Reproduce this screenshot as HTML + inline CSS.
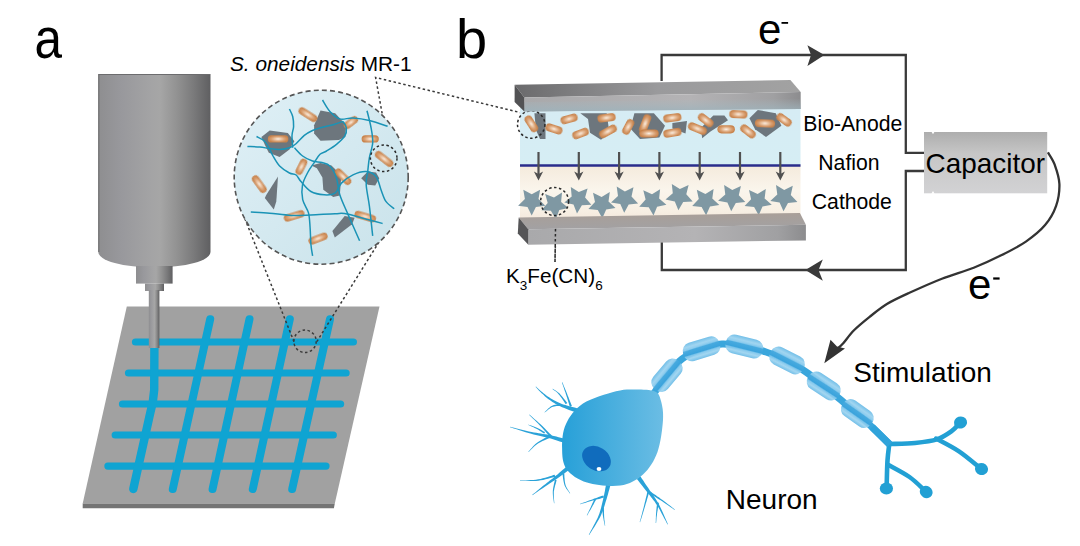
<!DOCTYPE html><html><head><meta charset="utf-8"><style>html,body{margin:0;padding:0;background:#fff;width:1080px;height:546px;overflow:hidden}svg{display:block}text{font-family:"Liberation Sans",sans-serif}</style></head><body>
<svg width="1080" height="546" viewBox="0 0 1080 546">
<defs>
<linearGradient id="cyl" x1="0" x2="1" y1="0" y2="0">
<stop offset="0" stop-color="#8e8e90"/><stop offset="0.2" stop-color="#98989c"/><stop offset="0.48" stop-color="#a4a4a5"/><stop offset="0.55" stop-color="#a6a6a6"/><stop offset="0.7" stop-color="#929292"/><stop offset="0.85" stop-color="#7a7a7b"/><stop offset="1" stop-color="#5f5f61"/></linearGradient>
<radialGradient id="rod" cx="0.5" cy="0.5" r="0.5"><stop offset="0" stop-color="#fbf0e6"/><stop offset="0.3" stop-color="#ecc9aa"/><stop offset="0.65" stop-color="#d9a072"/><stop offset="1" stop-color="#c8834c"/></radialGradient>
<linearGradient id="circ" x1="0" x2="1" y1="0" y2="1"><stop offset="0" stop-color="#dff0f6"/><stop offset="1" stop-color="#c9e2ea"/></linearGradient>
<linearGradient id="etop" x1="0" x2="1" y1="0" y2="0"><stop offset="0" stop-color="#6a6a6c"/><stop offset="0.5" stop-color="#9a9a9c"/><stop offset="1" stop-color="#a2a2a2"/></linearGradient>
<linearGradient id="efront" x1="0" x2="1" y1="0" y2="0"><stop offset="0" stop-color="#a9a9ab"/><stop offset="0.6" stop-color="#b4b3b5"/><stop offset="0.9" stop-color="#a0a0a2"/><stop offset="1" stop-color="#8c8c8e"/></linearGradient>
<linearGradient id="anode" x1="0" x2="0" y1="0" y2="1"><stop offset="0" stop-color="#d6ecf4"/><stop offset="1" stop-color="#d6eef4"/></linearGradient>
<linearGradient id="cath" x1="0" x2="0" y1="0" y2="1"><stop offset="0" stop-color="#f4eadc"/><stop offset="0.45" stop-color="#faf5ec"/><stop offset="0.8" stop-color="#f8f0e4"/><stop offset="1" stop-color="#f3e8dc"/></linearGradient>
<linearGradient id="btop" x1="0" x2="0" y1="0" y2="1"><stop offset="0" stop-color="#a99f98"/><stop offset="1" stop-color="#a2a1a3"/></linearGradient>
<linearGradient id="cap" x1="0" x2="0" y1="0" y2="1"><stop offset="0" stop-color="#adadad"/><stop offset="0.35" stop-color="#c6c6c6"/><stop offset="1" stop-color="#d2d2d4"/></linearGradient>
<linearGradient id="soma" x1="0" x2="1" y1="0" y2="0"><stop offset="0" stop-color="#27a0d8"/><stop offset="1" stop-color="#6bbde4"/></linearGradient>
<linearGradient id="myel" x1="0" x2="0" y1="0" y2="1"><stop offset="0" stop-color="#6cbce7"/><stop offset="0.2" stop-color="#9cd3f0"/><stop offset="0.34" stop-color="#86c9ed"/><stop offset="0.4" stop-color="#48aadf"/><stop offset="0.62" stop-color="#3ba3dc"/><stop offset="0.68" stop-color="#7fc6ec"/><stop offset="0.82" stop-color="#9ed4f0"/><stop offset="1" stop-color="#6cbce7"/></linearGradient>
<filter id="soft" x="-30%" y="-30%" width="160%" height="160%"><feGaussianBlur stdDeviation="0.7"/></filter>
<linearGradient id="eblue" x1="0" x2="0" y1="0" y2="1"><stop offset="0" stop-color="#a6b8c0" stop-opacity="0"/><stop offset="1" stop-color="#9db3bc" stop-opacity="0.85"/></linearGradient>
</defs>

<text x="34.6" y="58.3" font-size="57" fill="#000" textLength="27.5" lengthAdjust="spacingAndGlyphs">a</text>
<text x="456" y="57.5" font-size="56" fill="#000">b</text>
<path d="M98.3,74 H210.5 V252 A56.1,15.5 0 0 1 98.3,252 Z" fill="url(#cyl)"/>
<path d="M98.8,252 V74.5 H210" stroke="#6c6c6e" stroke-width="1.1" fill="none"/>
<rect x="136" y="266" width="36.6" height="17.6" fill="url(#cyl)"/>
<rect x="145" y="283.6" width="19" height="7.4" fill="url(#cyl)"/>
<polygon points="126.8,306.6 379.5,306.6 334.8,503.4 82.7,503.4" fill="#a1a1a1"/>
<polygon points="82.7,503.4 334.8,503.4 333.9,508.3 82.7,508.3" fill="#747474"/>
<line x1="135.5" y1="342" x2="353.4" y2="342" stroke="#0fa4d2" stroke-width="7.2" stroke-linecap="round"/>
<line x1="128.5" y1="373" x2="346.1" y2="373" stroke="#0fa4d2" stroke-width="7.2" stroke-linecap="round"/>
<line x1="122.5" y1="404" x2="340.6" y2="404" stroke="#0fa4d2" stroke-width="7.2" stroke-linecap="round"/>
<line x1="115.2" y1="435" x2="333.3" y2="435" stroke="#0fa4d2" stroke-width="7.2" stroke-linecap="round"/>
<line x1="107.9" y1="466.1" x2="326" y2="466.1" stroke="#0fa4d2" stroke-width="7.2" stroke-linecap="round"/>
<line x1="210.2" y1="319.2" x2="172.8" y2="489" stroke="#0fa4d2" stroke-width="8" stroke-linecap="round"/>
<line x1="249.5" y1="319.2" x2="212.6" y2="489" stroke="#0fa4d2" stroke-width="8" stroke-linecap="round"/>
<line x1="289.8" y1="319.2" x2="252.8" y2="489" stroke="#0fa4d2" stroke-width="8" stroke-linecap="round"/>
<line x1="330" y1="319.2" x2="292.2" y2="489" stroke="#0fa4d2" stroke-width="8" stroke-linecap="round"/>
<path d="M154.4,346 L154.2,390 Q153.5,402 150,414 L133.3,489" stroke="#0fa4d2" stroke-width="8.4" fill="none" stroke-linecap="round" stroke-linejoin="round"/>
<rect x="148.8" y="290" width="10.6" height="58" fill="url(#cyl)"/>
<g stroke="#3a3a3a" stroke-width="1.5" stroke-dasharray="2.5,2.5" fill="none">
<path d="M243,214 L294.5,343"/>
<path d="M379,242 L316,343"/>
<circle cx="305" cy="341.3" r="11.2"/>
<path d="M387.5,143 L375.6,77.5 L522.1,113"/>
<path d="M556,216 L555,262"/>
</g>
<circle cx="321.2" cy="177.2" r="87" fill="url(#circ)"/>
<polygon points="261.4,137.1 269.7,130.5 287.8,133.0 294.4,141.2 289.4,149.4 279.6,156.9 268.8,152.7 264.7,144.5" fill="#6d767d"/>
<polygon points="314.1,125.2 320.5,110.6 335.2,113.2 346.2,125.2 345.3,137.1 338.9,139.9 320.5,140.8 314.1,133.4" fill="#6d767d"/>
<polygon points="266.4,194.8 278.0,176.6 276.3,201.4 273.8,209.6 264.8,198.0" fill="#6d767d"/>
<polygon points="311.4,165.5 320.5,163.1 331.5,165.5 336.0,170.0 341.4,174.9 339.8,195.5 333.2,197.0 323.3,189.7 322.4,177.4 316.9,168.2" fill="#6d767d"/>
<polygon points="361.2,178.2 367.8,171.6 376.0,172.4 379.3,178.2 375.2,185.6 367.8,184.8" fill="#6d767d"/>
<polygon points="332.4,230.9 344.7,216.1 354.6,217.7 352.1,224.3 334.8,237.5" fill="#6d767d"/>
<g filter="url(#soft)" transform="translate(308.0,114.6) rotate(32.4)"><rect x="-10.5" y="-3.6" width="20.9" height="7.3" rx="3.6" fill="url(#rod)"/></g>
<g filter="url(#soft)" transform="translate(278.1,138.9) rotate(0.0)"><rect x="-10.3" y="-3.6" width="20.6" height="7.3" rx="3.6" fill="url(#rod)"/></g>
<g filter="url(#soft)" transform="translate(350.8,122.4) rotate(-37.4)"><rect x="-8.0" y="-3.6" width="16.0" height="7.3" rx="3.6" fill="url(#rod)"/></g>
<g filter="url(#soft)" transform="translate(370.2,138.9) rotate(0.0)"><rect x="-8.6" y="-3.6" width="17.2" height="7.3" rx="3.6" fill="url(#rod)"/></g>
<g filter="url(#soft)" transform="translate(384.2,158.9) rotate(38.0)"><rect x="-10.7" y="-3.6" width="21.3" height="7.3" rx="3.6" fill="url(#rod)"/></g>
<g filter="url(#soft)" transform="translate(301.5,166.8) rotate(116.7)"><rect x="-8.5" y="-3.6" width="17.1" height="7.3" rx="3.6" fill="url(#rod)"/></g>
<g filter="url(#soft)" transform="translate(259.4,184.1) rotate(54.1)"><rect x="-10.0" y="-3.6" width="19.9" height="7.3" rx="3.6" fill="url(#rod)"/></g>
<g filter="url(#soft)" transform="translate(343.1,176.6) rotate(44.8)"><rect x="-10.0" y="-3.6" width="20.1" height="7.3" rx="3.6" fill="url(#rod)"/></g>
<g filter="url(#soft)" transform="translate(294.1,215.8) rotate(-17.1)"><rect x="-10.6" y="-3.6" width="21.3" height="7.3" rx="3.6" fill="url(#rod)"/></g>
<g filter="url(#soft)" transform="translate(365.3,216.5) rotate(16.3)"><rect x="-11.1" y="-3.6" width="22.1" height="7.3" rx="3.6" fill="url(#rod)"/></g>
<g filter="url(#soft)" transform="translate(318.0,238.5) rotate(-20.9)"><rect x="-10.0" y="-3.6" width="20.0" height="7.3" rx="3.6" fill="url(#rod)"/></g>
<path d="M247.4,146.5 C249.5,146.6 256.1,146.7 259.8,147.0 C263.5,147.3 266.4,148.2 269.7,148.6 C273.0,149.0 276.3,149.5 279.6,149.4 C282.9,149.3 286.7,148.8 289.4,147.8 C292.1,146.9 293.5,145.8 296.0,143.7 C298.5,141.6 301.6,137.6 304.3,135.4 C307.1,133.2 309.5,131.9 312.5,130.5 C315.5,129.1 318.9,128.2 322.4,127.2 C325.8,126.2 329.8,125.7 333.2,124.7 C336.6,123.7 341.4,122.0 343.0,121.4" stroke="#1a93b6" stroke-width="1.5" fill="none"/>
<path d="M322.5,100.0 C323.7,101.9 327.0,108.3 329.9,111.5 C332.8,114.7 335.9,117.8 339.8,118.9 C343.7,120.0 348.1,117.7 353.0,118.0 C357.9,118.3 363.6,119.1 369.4,120.5 C375.2,121.9 384.6,125.3 387.6,126.3" stroke="#1a93b6" stroke-width="1.5" fill="none"/>
<path d="M289.4,109.0 C289.9,110.2 292.0,113.6 292.7,116.5 C293.4,119.4 293.7,123.2 293.6,126.4 C293.5,129.6 292.1,131.8 292.0,135.4 C291.9,139.0 292.6,145.7 292.7,147.8" stroke="#1a93b6" stroke-width="1.5" fill="none"/>
<path d="M256.5,136.5 C257.9,137.3 262.5,139.0 264.7,141.2 C266.9,143.3 268.3,146.9 269.7,149.4 C271.1,151.9 271.4,153.2 273.0,156.0 C274.6,158.8 276.9,163.2 279.6,166.0 C282.3,168.8 286.6,171.5 289.4,173.0 C292.1,174.5 294.2,173.6 296.1,175.0 C298.0,176.4 298.5,178.8 301.0,181.6 C303.5,184.3 307.0,189.3 310.9,191.5 C314.8,193.7 320.1,194.5 324.1,194.8 C328.1,195.1 332.1,195.1 335.0,193.1 C337.9,191.1 338.4,186.1 341.4,183.1 C344.4,180.1 348.9,176.8 353.0,174.9 C357.1,173.0 362.4,171.3 366.2,171.6 C370.0,171.9 373.5,173.5 376.0,176.5 C378.5,179.5 379.4,185.6 381.0,189.7 C382.6,193.8 383.7,198.1 385.9,201.3 C388.1,204.5 392.8,207.5 394.2,208.7" stroke="#1a93b6" stroke-width="1.5" fill="none"/>
<path d="M343.0,121.4 C343.6,122.5 346.1,125.5 346.4,128.0 C346.7,130.5 346.3,133.5 344.7,136.2 C343.1,138.9 339.5,141.9 336.5,144.4 C333.5,146.9 329.4,149.3 326.6,151.0 C323.9,152.7 322.1,152.4 320.0,154.3 C317.9,156.2 316.2,159.7 314.2,162.6 C312.2,165.5 309.9,168.3 308.0,172.0 C306.1,175.7 303.4,180.3 302.5,184.9 C301.6,189.5 301.7,195.0 302.7,199.7 C303.7,204.4 307.3,208.2 308.5,212.9 C309.7,217.6 309.7,222.5 310.1,227.7 C310.5,232.9 310.5,239.5 310.9,244.2 C311.3,248.9 312.3,253.9 312.6,255.8" stroke="#1a93b6" stroke-width="1.5" fill="none"/>
<path d="M367.0,110.7 C367.7,113.6 370.2,122.7 371.1,128.0 C372.1,133.3 373.0,137.9 372.7,142.8 C372.4,147.7 370.2,152.9 369.4,157.6 C368.6,162.3 368.3,166.3 367.8,170.8 C367.3,175.3 365.9,178.9 366.2,184.8 C366.5,190.7 368.3,197.7 369.4,206.2 C370.5,214.7 372.1,230.9 372.7,235.9" stroke="#1a93b6" stroke-width="1.5" fill="none"/>
<path d="M250.8,212.1 C254.0,212.3 263.0,212.6 269.7,213.2 C276.4,213.8 284.3,215.1 291.2,215.4 C298.1,215.7 303.6,215.2 310.9,214.9 C318.2,214.6 329.4,213.9 335.0,213.7 C340.6,213.5 340.3,212.9 344.7,213.6 C349.1,214.3 354.9,216.0 361.2,217.7 C367.5,219.3 379.0,222.5 382.6,223.5" stroke="#1a93b6" stroke-width="1.5" fill="none"/>
<path d="M294.4,147.8 C295.8,149.2 299.6,153.8 302.6,156.0 C305.6,158.2 309.3,159.9 312.5,161.0 C315.7,162.1 319.1,161.7 322.0,162.5 C324.9,163.3 327.5,163.4 329.9,166.0 C332.3,168.6 334.9,173.4 336.5,178.2 C338.1,183.0 337.9,188.7 339.8,194.7 C341.7,200.7 344.7,206.7 348.0,214.4 C351.3,222.1 357.7,236.4 359.6,240.8" stroke="#1a93b6" stroke-width="1.5" fill="none"/>
<circle cx="321.2" cy="177.2" r="87" fill="none" stroke="#555" stroke-width="1.6" stroke-dasharray="5,3.2"/>
<circle cx="383.7" cy="158.3" r="13.3" fill="none" stroke="#2a2a2a" stroke-width="1.5" stroke-dasharray="2.5,2.5"/>
<text x="230" y="70.5" font-size="21" fill="#000" textLength="181.5" lengthAdjust="spacingAndGlyphs"><tspan font-style="italic">S. oneidensis</tspan> MR-1</text>
<rect x="520" y="108" width="280.5" height="58" fill="url(#anode)"/>
<rect x="520" y="165" width="280.5" height="56" fill="url(#cath)"/>
<polygon points="534.4,113.3 545.5,113.3 545.5,139.0 540.0,139.0 536.0,130.0" fill="#6d767d"/>
<polygon points="580.3,113.3 606.7,113.3 609.4,132.8 601.0,139.7 590.0,132.8 588.0,118.9" fill="#6d767d"/>
<polygon points="634.4,113.3 653.9,113.3 665.0,125.8 659.4,137.6 640.0,139.0 630.3,128.6" fill="#6d767d"/>
<polygon points="672.4,123.0 687.0,121.0 685.5,133.5 672.4,128.6" fill="#6d767d"/>
<polygon points="713.3,115.4 724.4,115.4 728.0,120.3 710.5,131.4 702.2,138.3 700.8,128.0" fill="#6d767d"/>
<polygon points="757.8,109.9 775.8,113.3 781.4,125.8 766.0,137.0 755.0,129.3 749.4,118.2" fill="#6d767d"/>
<g filter="url(#soft)" transform="translate(531.3,123.8) rotate(57.1)"><rect x="-9.0" y="-4.1" width="18.1" height="8.2" rx="4.1" fill="url(#rod)"/></g>
<g filter="url(#soft)" transform="translate(553.9,128.9) rotate(17.9)"><rect x="-8.7" y="-4.1" width="17.5" height="8.2" rx="4.1" fill="url(#rod)"/></g>
<g filter="url(#soft)" transform="translate(569.1,118.9) rotate(-15.4)"><rect x="-8.7" y="-4.1" width="17.4" height="8.2" rx="4.1" fill="url(#rod)"/></g>
<g filter="url(#soft)" transform="translate(580.6,133.5) rotate(-20.8)"><rect x="-8.6" y="-4.1" width="17.1" height="8.2" rx="4.1" fill="url(#rod)"/></g>
<g filter="url(#soft)" transform="translate(606.6,117.8) rotate(-7.2)"><rect x="-9.2" y="-4.1" width="18.3" height="8.2" rx="4.1" fill="url(#rod)"/></g>
<g filter="url(#soft)" transform="translate(608.0,131.4) rotate(-28.8)"><rect x="-9.5" y="-4.1" width="19.0" height="8.2" rx="4.1" fill="url(#rod)"/></g>
<g filter="url(#soft)" transform="translate(628.2,126.9) rotate(-62.1)"><rect x="-8.2" y="-4.1" width="16.4" height="8.2" rx="4.1" fill="url(#rod)"/></g>
<g filter="url(#soft)" transform="translate(645.1,123.7) rotate(-69.2)"><rect x="-9.6" y="-4.1" width="19.3" height="8.2" rx="4.1" fill="url(#rod)"/></g>
<g filter="url(#soft)" transform="translate(649.0,133.5) rotate(0.0)"><rect x="-9.8" y="-4.1" width="19.5" height="8.2" rx="4.1" fill="url(#rod)"/></g>
<g filter="url(#soft)" transform="translate(672.4,117.8) rotate(-7.2)"><rect x="-9.2" y="-4.1" width="18.3" height="8.2" rx="4.1" fill="url(#rod)"/></g>
<g filter="url(#soft)" transform="translate(672.4,132.8) rotate(-9.5)"><rect x="-9.2" y="-4.1" width="18.4" height="8.2" rx="4.1" fill="url(#rod)"/></g>
<g filter="url(#soft)" transform="translate(705.7,120.2) rotate(37.6)"><rect x="-8.7" y="-4.1" width="17.4" height="8.2" rx="4.1" fill="url(#rod)"/></g>
<g filter="url(#soft)" transform="translate(697.4,128.6) rotate(22.4)"><rect x="-9.8" y="-4.1" width="19.6" height="8.2" rx="4.1" fill="url(#rod)"/></g>
<g filter="url(#soft)" transform="translate(726.2,129.3) rotate(0.0)"><rect x="-8.8" y="-4.1" width="17.5" height="8.2" rx="4.1" fill="url(#rod)"/></g>
<g filter="url(#soft)" transform="translate(738.4,114.3) rotate(2.4)"><rect x="-9.1" y="-4.1" width="18.2" height="8.2" rx="4.1" fill="url(#rod)"/></g>
<g filter="url(#soft)" transform="translate(748.0,131.4) rotate(38.0)"><rect x="-8.7" y="-4.1" width="17.4" height="8.2" rx="4.1" fill="url(#rod)"/></g>
<g filter="url(#soft)" transform="translate(765.0,123.4) rotate(2.3)"><rect x="-10.1" y="-4.1" width="20.2" height="8.2" rx="4.1" fill="url(#rod)"/></g>
<g filter="url(#soft)" transform="translate(784.1,119.9) rotate(35.8)"><rect x="-8.5" y="-4.1" width="16.9" height="8.2" rx="4.1" fill="url(#rod)"/></g>
<line x1="520" y1="165.5" x2="800.5" y2="165.5" stroke="#2a2d8c" stroke-width="2.4"/>
<path d="M538.5,152 V175" stroke="#505050" stroke-width="2.2" fill="none"/>
<path d="M538.5,180.5 L533.9,171.5 L538.5,174 L543.1,171.5 Z" fill="#505050"/>
<path d="M578.8,152 V175" stroke="#505050" stroke-width="2.2" fill="none"/>
<path d="M578.8,180.5 L574.2,171.5 L578.8,174 L583.4,171.5 Z" fill="#505050"/>
<path d="M619.1,152 V175" stroke="#505050" stroke-width="2.2" fill="none"/>
<path d="M619.1,180.5 L614.5,171.5 L619.1,174 L623.7,171.5 Z" fill="#505050"/>
<path d="M659.4,152 V175" stroke="#505050" stroke-width="2.2" fill="none"/>
<path d="M659.4,180.5 L654.8,171.5 L659.4,174 L664.0,171.5 Z" fill="#505050"/>
<path d="M699.7,152 V175" stroke="#505050" stroke-width="2.2" fill="none"/>
<path d="M699.7,180.5 L695.1,171.5 L699.7,174 L704.3,171.5 Z" fill="#505050"/>
<path d="M740.0,152 V175" stroke="#505050" stroke-width="2.2" fill="none"/>
<path d="M740.0,180.5 L735.4,171.5 L740.0,174 L744.6,171.5 Z" fill="#505050"/>
<path d="M780.3,152 V175" stroke="#505050" stroke-width="2.2" fill="none"/>
<path d="M780.3,180.5 L775.7,171.5 L780.3,174 L784.9,171.5 Z" fill="#505050"/>
<polygon points="531.7,215.6 527.5,207.0 518.1,205.7 524.9,199.1 523.3,189.7 531.7,194.2 540.1,189.7 538.5,199.1 545.3,205.7 535.9,207.0" fill="#7f98a3"/>
<polygon points="555.8,218.9 550.9,210.8 541.4,210.3 547.7,203.1 545.2,193.9 554.0,197.6 562.0,192.4 561.1,201.9 568.5,207.9 559.3,210.1" fill="#7f98a3"/>
<polygon points="577.0,213.4 573.5,204.6 564.3,202.4 571.7,196.4 570.8,186.9 578.8,192.1 587.6,188.4 585.1,197.6 591.4,204.8 581.9,205.3" fill="#7f98a3"/>
<polygon points="602.3,218.3 597.8,209.9 588.4,208.9 595.0,202.0 593.0,192.7 601.6,196.9 609.8,192.1 608.5,201.6 615.5,207.9 606.2,209.6" fill="#7f98a3"/>
<polygon points="624.2,212.8 620.3,204.1 611.0,202.4 618.0,196.1 616.7,186.6 624.9,191.4 633.5,187.2 631.5,196.5 638.1,203.4 628.7,204.4" fill="#7f98a3"/>
<polygon points="653.5,215.6 648.7,207.3 639.2,206.7 645.6,199.6 643.3,190.3 652.0,194.2 660.1,189.2 659.1,198.6 666.4,204.8 657.1,206.7" fill="#7f98a3"/>
<polygon points="678.4,210.3 674.8,201.4 665.5,199.5 672.8,193.3 671.8,183.9 679.9,188.9 688.6,185.0 686.3,194.3 692.7,201.4 683.2,202.0" fill="#7f98a3"/>
<polygon points="706.1,215.3 701.6,206.9 692.2,205.9 698.8,199.0 696.8,189.7 705.4,193.9 713.6,189.1 712.3,198.6 719.3,204.9 710.0,206.6" fill="#7f98a3"/>
<polygon points="731.2,211.3 727.4,202.5 718.1,200.7 725.3,194.5 724.1,185.0 732.3,189.9 740.9,185.9 738.8,195.2 745.3,202.1 735.8,203.0" fill="#7f98a3"/>
<polygon points="758.7,215.3 754.1,207.0 744.6,206.1 751.1,199.2 749.0,189.9 757.6,193.9 765.8,189.0 764.6,198.5 771.8,204.7 762.5,206.5" fill="#7f98a3"/>
<polygon points="783.5,211.3 779.6,202.6 770.3,200.9 777.3,194.6 776.0,185.1 784.2,189.9 792.8,185.7 790.8,195.0 797.4,201.9 788.0,202.9" fill="#7f98a3"/>
<circle cx="554.6" cy="201.5" r="14" fill="none" stroke="#2a2a2a" stroke-width="1.5" stroke-dasharray="2.5,2.5"/>
<circle cx="531.2" cy="124.5" r="13.7" fill="none" stroke="#2a2a2a" stroke-width="1.5" stroke-dasharray="2.5,2.5"/>
<polygon points="514.6,84.8 790.4,80.0 800.7,92.0 524.3,97.4" fill="url(#etop)"/>
<polygon points="524.3,97.4 800.7,92.0 800.7,109.0 524.3,111.5" fill="url(#efront)"/>
<polygon points="524.3,102.0 800.7,98.5 800.7,109.0 524.3,111.5" fill="url(#eblue)"/>
<polygon points="514.6,84.8 524.3,97.4 524.3,111.5 514.6,102.0" fill="#525254"/>
<polygon points="518.7,217.4 799.9,212.9 805.9,224.8 528.3,229.3" fill="url(#btop)"/>
<polygon points="528.3,229.3 805.9,224.8 805.9,240.4 528.3,244.8" fill="url(#efront)"/>
<polygon points="518.7,217.4 528.3,229.3 528.3,244.8 517.8,233.4" fill="#555557"/>
<path d="M555.5,229 L555,262" stroke="#2a2a2a" stroke-width="1.5" stroke-dasharray="2.5,2.5" fill="none"/>
<path d="M661.6,81 V55 H905.8 V152.9 H924" stroke="#3a3a3a" stroke-width="2.3" fill="none"/>
<path d="M661.8,242.6 V270 H905.8 V171 H924" stroke="#3a3a3a" stroke-width="2.3" fill="none"/>
<path d="M824.4,55 L807.4,45.2 L811,55 L807.4,66 Z" fill="#3a3a3a"/>
<path d="M805.4,270 L822.8,259.6 L818.5,270 L822.8,280.7 Z" fill="#3a3a3a"/>
<text x="758" y="43.5" font-size="42" fill="#000">e</text>
<rect x="781.5" y="22" width="6.6" height="1.8" fill="#000"/>
<text x="803.3" y="130.8" font-size="21.2" fill="#000">Bio-Anode</text>
<text x="818.3" y="169.5" font-size="21.2" fill="#000">Nafion</text>
<text x="811.8" y="208.5" font-size="21.2" fill="#000">Cathode</text>
<text x="506" y="283" font-size="20.7" fill="#000">K<tspan font-size="13.5" dy="6.6">3</tspan><tspan dy="-6.6">Fe(CN)</tspan><tspan font-size="13.5" dy="6.6">6</tspan></text>
<rect x="924" y="132" width="123.2" height="61.3" fill="url(#cap)"/>
<path d="M931.3,131.5 L934.7,131.5 L933,134.3 Z M931.3,193.8 L934.7,193.8 L933,191 Z" fill="#fff"/>
<text x="925.5" y="173.3" font-size="28.5" fill="#000" textLength="119.5" lengthAdjust="spacingAndGlyphs">Capacitor</text>
<path d="M1047.9,152.4 C1049.0,154.4 1052.8,159.4 1054.7,164.7 C1056.6,170.0 1059.2,177.1 1059.4,184.0 C1059.6,190.9 1058.5,199.1 1056.1,205.9 C1053.7,212.8 1050.1,219.2 1045.1,225.1 C1040.1,231.0 1033.2,236.6 1025.9,241.6 C1018.6,246.6 1009.9,251.0 1001.2,255.3 C992.5,259.7 983.6,263.8 973.7,267.7 C963.8,271.6 952.7,274.5 941.9,278.7 C931.1,282.9 918.1,288.8 908.9,293.0 C899.7,297.2 893.5,300.0 886.9,304.0 C880.3,308.0 874.8,312.7 869.3,317.1 C863.8,321.5 858.4,325.9 854.0,330.3 C849.6,334.7 845.8,340.4 843.0,343.5 C840.2,346.6 838.0,348.1 837.0,349.0" stroke="#333" stroke-width="2.3" fill="none"/>
<path d="M824.3,363.3 L830.5,339.8 L837,346.5 L845,348.5 Z" fill="#333"/>
<text x="968" y="299" font-size="42" fill="#000">e</text>
<rect x="993.2" y="277.4" width="6.4" height="2.2" fill="#000"/>
<text x="853.3" y="382" font-size="28" fill="#000">Stimulation</text>
<text x="725.8" y="509.2" font-size="28" fill="#000">Neuron</text>
<polygon points="577.6,408.5 576.3,408.1 574.6,407.6 572.4,407.1 570.1,406.4 567.7,405.8 565.4,405.1 563.2,404.4 561.3,403.7 559.6,403.0 558.0,402.3 556.4,401.6 555.0,400.8 553.5,400.0 552.2,399.2 550.8,398.4 549.5,397.6 548.2,396.8 547.0,395.9 545.8,395.0 544.6,394.1 543.5,393.2 542.4,392.3 541.4,391.5 540.5,390.7 539.7,390.1 539.0,389.4 538.3,388.8 537.7,388.2 537.2,387.7 536.7,387.2 536.3,386.8 536.0,386.5 535.6,386.9 535.9,387.2 536.3,387.6 536.7,388.1 537.2,388.7 537.8,389.3 538.4,390.0 539.1,390.7 539.9,391.5 540.7,392.3 541.6,393.2 542.6,394.1 543.7,395.1 544.8,396.2 546.0,397.2 547.2,398.2 548.5,399.2 549.7,400.1 551.1,401.0 552.4,401.9 553.8,402.8 555.3,403.7 556.8,404.6 558.4,405.5 560.1,406.3 562.1,407.2 564.3,408.1 566.7,409.0 569.0,409.9 571.3,410.7 573.4,411.4 575.1,412.0 576.4,412.5" fill="#2aa2d8"/>
<polygon points="571.9,406.1 571.6,405.2 571.1,403.9 570.5,402.4 569.8,400.7 569.1,398.9 568.4,397.1 567.7,395.4 567.1,393.8 566.5,392.2 565.8,390.6 565.1,388.9 564.4,387.2 563.7,385.7 563.2,384.3 562.7,383.1 562.3,382.2 561.9,382.4 562.2,383.3 562.6,384.5 563.1,385.9 563.7,387.5 564.2,389.2 564.8,390.9 565.4,392.6 565.9,394.2 566.4,395.8 567.0,397.6 567.6,399.5 568.1,401.3 568.7,403.0 569.1,404.6 569.6,405.9 569.9,406.9" fill="#2aa2d8"/>
<polygon points="567.3,403.0 566.7,402.3 565.9,401.2 565.0,400.0 563.9,398.7 562.8,397.3 561.7,395.9 560.6,394.7 559.6,393.6 558.6,392.8 557.6,392.0 556.6,391.2 555.6,390.6 554.7,390.0 553.9,389.5 553.2,389.1 552.7,388.7 552.5,389.1 553.0,389.4 553.6,389.9 554.4,390.5 555.2,391.1 556.2,391.8 557.1,392.6 558.0,393.5 558.8,394.4 559.7,395.4 560.6,396.7 561.6,398.1 562.6,399.6 563.6,401.0 564.4,402.3 565.2,403.4 565.7,404.2" fill="#2aa2d8"/>
<polygon points="559.9,404.1 559.3,404.2 558.4,404.3 557.4,404.5 556.3,404.6 555.1,404.8 553.9,405.1 552.7,405.5 551.7,406.0 550.6,406.6 549.6,407.4 548.5,408.3 547.5,409.3 546.6,410.2 545.7,411.0 545.0,411.7 544.5,412.2 544.7,412.6 545.3,412.1 546.1,411.4 547.0,410.7 548.0,409.8 549.1,409.0 550.1,408.2 551.2,407.5 552.1,407.0 553.1,406.7 554.2,406.4 555.4,406.2 556.5,406.1 557.6,406.1 558.6,406.0 559.5,406.0 560.1,405.9" fill="#2aa2d8"/>
<polygon points="565.6,439.0 564.4,438.7 562.7,438.2 560.8,437.7 558.6,437.2 556.3,436.6 553.9,436.0 551.6,435.5 549.4,435.0 547.2,434.6 545.1,434.2 542.9,433.9 540.8,433.5 538.6,433.2 536.3,432.8 534.0,432.4 531.6,432.0 529.0,431.4 526.0,430.7 522.9,429.9 519.8,429.2 516.8,428.4 514.1,427.7 511.9,427.2 510.2,426.8 510.0,427.2 511.7,427.8 513.9,428.5 516.6,429.3 519.5,430.3 522.6,431.3 525.6,432.2 528.5,433.1 531.2,433.8 533.6,434.5 535.9,435.0 538.1,435.6 540.3,436.0 542.4,436.5 544.5,437.0 546.6,437.5 548.6,438.0 550.8,438.6 553.0,439.3 555.3,440.0 557.6,440.8 559.7,441.5 561.6,442.1 563.2,442.6 564.4,443.0" fill="#2aa2d8"/>
<polygon points="552.7,436.6 551.9,435.7 550.9,434.6 549.6,433.4 548.2,431.9 546.7,430.4 545.1,428.8 543.6,427.3 542.1,425.8 540.5,424.3 538.7,422.8 536.9,421.1 535.0,419.5 533.3,417.9 531.7,416.5 530.3,415.3 529.3,414.5 529.1,414.7 530.0,415.7 531.3,416.9 532.8,418.4 534.5,420.1 536.2,421.8 538.0,423.5 539.6,425.2 541.1,426.8 542.5,428.3 544.0,429.9 545.4,431.5 546.8,433.2 548.2,434.7 549.3,436.0 550.3,437.2 551.1,438.0" fill="#2aa2d8"/>
<polygon points="545.1,432.1 544.5,431.8 543.8,431.4 542.9,430.9 541.8,430.3 540.8,429.7 539.7,429.1 538.5,428.5 537.5,428.0 536.3,427.5 535.1,427.0 533.8,426.5 532.5,426.0 531.2,425.6 530.1,425.2 529.2,424.9 528.5,424.6 528.3,425.0 529.0,425.3 529.9,425.7 531.0,426.2 532.2,426.7 533.5,427.3 534.7,427.9 535.9,428.5 536.9,429.0 537.9,429.6 539.0,430.2 540.0,430.9 541.1,431.6 542.0,432.2 542.9,432.8 543.6,433.3 544.1,433.7" fill="#2aa2d8"/>
<polygon points="548.5,436.1 547.6,436.6 546.4,437.3 544.8,438.1 543.2,439.0 541.4,440.0 539.7,441.0 538.1,442.0 536.7,443.0 535.4,444.1 534.1,445.3 532.9,446.6 531.7,447.9 530.6,449.1 529.7,450.2 528.9,451.1 528.3,451.8 528.5,452.0 529.2,451.4 530.1,450.5 531.1,449.5 532.2,448.4 533.4,447.2 534.7,446.0 536.0,444.9 537.3,444.0 538.8,443.1 540.4,442.2 542.1,441.3 543.9,440.4 545.6,439.7 547.2,439.0 548.5,438.4 549.5,437.9" fill="#2aa2d8"/>
<polygon points="566.7,466.4 565.7,467.2 564.4,468.4 562.8,469.7 561.1,471.2 559.3,472.8 557.5,474.4 555.7,475.8 554.1,477.2 552.7,478.4 551.2,479.5 549.8,480.6 548.4,481.7 547.0,482.8 545.6,483.9 544.2,484.9 542.8,486.0 541.4,487.2 539.9,488.5 538.4,489.7 536.9,491.0 535.5,492.2 534.2,493.2 533.1,494.1 532.3,494.8 532.7,495.2 533.5,494.6 534.6,493.8 536.0,492.8 537.5,491.8 539.1,490.6 540.7,489.5 542.3,488.4 543.8,487.4 545.2,486.4 546.7,485.4 548.2,484.5 549.6,483.5 551.2,482.6 552.7,481.6 554.3,480.5 555.9,479.4 557.6,478.2 559.4,476.9 561.4,475.5 563.4,474.0 565.2,472.7 566.9,471.4 568.3,470.4 569.3,469.6" fill="#2aa2d8"/>
<polygon points="554.7,474.7 553.4,475.1 551.8,475.7 549.8,476.3 547.6,477.0 545.2,477.7 542.8,478.3 540.4,478.9 538.2,479.3 535.9,479.7 533.4,479.9 530.7,480.1 528.1,480.3 525.6,480.4 523.3,480.5 521.4,480.5 520.0,480.6 520.0,481.0 521.4,481.0 523.3,481.0 525.6,481.0 528.1,481.1 530.8,481.1 533.4,481.0 536.0,480.9 538.4,480.7 540.7,480.3 543.2,479.9 545.6,479.3 548.0,478.7 550.3,478.1 552.3,477.6 554.0,477.2 555.3,476.9" fill="#2aa2d8"/>
<polygon points="554.9,479.8 554.7,480.7 554.5,481.9 554.1,483.3 553.8,484.9 553.4,486.7 553.1,488.4 552.9,490.1 552.8,491.7 552.8,493.2 552.9,494.9 553.0,496.6 553.2,498.3 553.5,499.8 553.7,501.3 553.9,502.4 554.0,503.3 554.4,503.3 554.3,502.4 554.2,501.2 554.1,499.8 553.9,498.2 553.8,496.5 553.8,494.9 553.8,493.2 553.8,491.7 554.1,490.2 554.4,488.6 554.8,487.0 555.2,485.3 555.7,483.7 556.1,482.3 556.4,481.1 556.7,480.2" fill="#2aa2d8"/>
<polygon points="562.4,473.4 562.5,474.3 562.7,475.6 562.9,477.1 563.1,478.7 563.4,480.4 563.7,482.1 564.1,483.7 564.5,485.2 565.1,486.5 565.8,487.7 566.5,488.9 567.3,490.1 568.1,491.1 568.8,492.0 569.4,492.8 569.8,493.4 570.2,493.2 569.8,492.6 569.2,491.7 568.6,490.8 567.9,489.7 567.2,488.5 566.5,487.3 565.9,486.1 565.5,484.8 565.2,483.5 564.9,481.9 564.7,480.3 564.6,478.6 564.4,476.9 564.4,475.4 564.3,474.1 564.2,473.2" fill="#2aa2d8"/>
<polygon points="606.4,483.5 606.1,484.8 605.7,486.5 605.3,488.6 604.9,490.9 604.4,493.3 603.9,495.7 603.4,498.0 602.9,500.2 602.4,502.2 602.0,504.1 601.5,505.9 601.1,507.8 600.6,509.6 600.0,511.5 599.4,513.5 598.6,515.6 597.6,517.9 596.3,520.5 594.9,523.3 593.4,526.1 592.0,528.7 590.7,531.1 589.6,533.2 588.8,534.7 589.2,534.9 590.1,533.5 591.4,531.5 592.8,529.2 594.5,526.7 596.1,524.0 597.7,521.3 599.2,518.7 600.4,516.4 601.4,514.3 602.2,512.3 603.0,510.4 603.6,508.5 604.2,506.7 604.8,504.8 605.3,503.0 605.9,501.0 606.6,498.9 607.3,496.6 608.0,494.2 608.6,491.8 609.3,489.5 609.8,487.5 610.3,485.8 610.6,484.5" fill="#2aa2d8"/>
<polygon points="603.4,495.4 602.5,495.7 601.4,496.1 600.1,496.6 598.6,497.1 597.0,497.7 595.4,498.2 593.8,498.8 592.3,499.4 590.7,499.9 589.0,500.6 587.2,501.2 585.4,501.9 583.7,502.5 582.2,503.1 580.9,503.6 579.9,503.9 580.1,504.3 581.0,504.0 582.4,503.6 583.9,503.2 585.7,502.7 587.5,502.1 589.3,501.6 591.1,501.1 592.7,500.6 594.3,500.2 595.9,499.8 597.5,499.3 599.2,498.9 600.7,498.5 602.0,498.1 603.2,497.8 604.0,497.6" fill="#2aa2d8"/>
<polygon points="594.5,498.8 594.2,499.5 593.8,500.4 593.3,501.4 592.8,502.6 592.2,503.8 591.7,505.1 591.1,506.3 590.6,507.4 590.1,508.4 589.6,509.5 589.0,510.7 588.5,511.8 588.0,512.9 587.5,513.8 587.1,514.6 586.8,515.2 587.2,515.4 587.5,514.8 588.0,514.1 588.5,513.1 589.1,512.1 589.7,511.1 590.4,510.0 591.0,508.9 591.6,507.8 592.2,506.8 592.8,505.6 593.5,504.4 594.1,503.2 594.7,502.1 595.3,501.1 595.8,500.2 596.1,499.6" fill="#2aa2d8"/>
<polygon points="602.1,507.7 602.2,508.4 602.3,509.4 602.4,510.7 602.5,512.0 602.7,513.5 602.8,514.9 603.0,516.2 603.2,517.5 603.4,518.6 603.6,519.8 603.8,521.0 604.1,522.2 604.3,523.3 604.5,524.3 604.7,525.1 604.8,525.7 605.2,525.7 605.1,525.0 605.0,524.2 604.9,523.2 604.7,522.1 604.6,520.9 604.4,519.7 604.3,518.5 604.2,517.3 604.1,516.1 604.1,514.8 604.0,513.4 604.0,511.9 604.0,510.6 603.9,509.3 603.9,508.3 603.9,507.5" fill="#2aa2d8"/>
<polygon points="636.7,478.8 637.5,479.8 638.5,481.1 639.8,482.7 641.2,484.5 642.6,486.3 644.1,488.2 645.5,490.1 646.9,491.8 648.2,493.5 649.5,495.1 650.8,496.7 652.0,498.3 653.3,499.9 654.6,501.6 655.8,503.4 657.1,505.3 658.5,507.5 659.9,510.1 661.4,512.9 662.9,515.7 664.3,518.4 665.6,520.8 666.7,522.9 667.5,524.4 667.9,524.2 667.2,522.6 666.3,520.5 665.2,518.0 664.0,515.2 662.7,512.2 661.4,509.4 660.1,506.7 658.9,504.3 657.7,502.2 656.5,500.3 655.4,498.4 654.2,496.7 653.0,495.0 651.8,493.3 650.7,491.7 649.5,490.0 648.3,488.1 647.0,486.2 645.6,484.2 644.3,482.2 643.1,480.3 641.9,478.7 641.0,477.3 640.3,476.2" fill="#2aa2d8"/>
<polygon points="649.0,493.2 650.0,493.8 651.3,494.6 652.9,495.6 654.6,496.6 656.5,497.8 658.3,498.9 660.1,500.1 661.8,501.1 663.5,502.2 665.3,503.5 667.2,504.7 669.0,506.0 670.7,507.2 672.3,508.3 673.6,509.2 674.6,509.9 674.8,509.5 673.9,508.8 672.6,507.8 671.1,506.6 669.5,505.3 667.7,504.0 665.9,502.6 664.2,501.3 662.6,500.1 660.9,498.9 659.2,497.6 657.4,496.4 655.6,495.1 653.9,494.0 652.4,492.9 651.2,492.0 650.2,491.4" fill="#2aa2d8"/>
<polygon points="647.3,492.1 647.0,493.3 646.7,494.9 646.2,496.7 645.7,498.8 645.2,501.1 644.6,503.3 644.1,505.5 643.6,507.5 643.1,509.4 642.5,511.5 642.0,513.7 641.4,515.8 640.9,517.7 640.4,519.5 640.0,521.0 639.7,522.1 640.1,522.3 640.4,521.1 640.9,519.7 641.5,517.9 642.1,516.0 642.7,513.9 643.4,511.8 644.0,509.7 644.6,507.7 645.2,505.8 645.8,503.6 646.5,501.4 647.1,499.2 647.7,497.2 648.3,495.3 648.7,493.7 649.1,492.5" fill="#2aa2d8"/>
<polygon points="657.1,502.6 657.0,503.4 656.9,504.5 656.8,505.8 656.6,507.2 656.5,508.8 656.3,510.3 656.2,511.8 656.1,513.1 656.0,514.5 655.9,515.9 655.9,517.3 655.8,518.7 655.8,520.0 655.8,521.2 655.7,522.1 655.7,522.9 656.1,522.9 656.2,522.2 656.3,521.2 656.4,520.0 656.5,518.7 656.6,517.3 656.8,515.9 657.0,514.6 657.1,513.3 657.3,511.9 657.6,510.5 657.8,509.0 658.1,507.4 658.3,506.0 658.6,504.7 658.8,503.6 658.9,502.8" fill="#2aa2d8"/>
<path d="M652.0,396.0 C654.5,392.6 662.0,381.5 667.0,375.3 C672.0,369.1 676.2,363.4 682.0,359.0 C687.8,354.6 694.8,351.3 701.5,348.8 C708.2,346.3 714.9,344.4 722.0,344.0 C729.1,343.6 737.0,345.2 744.3,346.5 C751.6,347.8 758.9,349.7 766.0,352.0 C773.1,354.3 780.3,357.2 787.0,360.5 C793.7,363.8 799.9,367.8 806.0,372.0 C812.1,376.2 817.9,381.3 823.7,386.0 C829.5,390.7 835.4,395.4 841.0,400.0 C846.6,404.6 852.0,408.8 857.3,413.5 C862.6,418.2 867.7,422.9 873.0,428.0 C878.3,433.1 886.6,441.3 889.3,444.0" stroke="#3aa6dc" stroke-width="7" fill="none"/>
<path d="M562.1,448.0 C562.2,455.5 562.4,463.2 566.5,469.0 C570.6,474.8 578.0,479.8 587.0,482.5 C596.0,485.2 611.0,486.8 620.3,485.5 C629.6,484.2 636.8,480.1 643.0,474.5 C649.2,468.9 654.2,461.1 657.5,452.0 C660.8,442.9 662.4,428.5 663.0,420.0 C663.6,411.5 662.3,405.8 661.0,401.0 C659.7,396.2 659.2,393.4 655.0,391.5 C650.8,389.6 642.5,389.5 636.0,389.5 C629.5,389.5 624.8,388.9 616.0,391.3 C607.2,393.7 591.3,398.2 583.0,403.6 C574.7,409.1 569.5,416.6 566.0,424.0 C562.5,431.4 562.0,440.5 562.1,448.0Z" fill="url(#soma)"/>
<ellipse cx="596.5" cy="458.6" rx="15.3" ry="11.6" transform="rotate(32 596.5 458.6)" fill="#106cbd"/>
<ellipse cx="599" cy="469" rx="2.4" ry="2" fill="#fff"/>
<g transform="translate(667,375.3) rotate(-50)" opacity="0.95"><rect x="-18.5" y="-9.5" width="37" height="19" rx="8.5" fill="url(#myel)"/></g>
<g transform="translate(701.5,348.8) rotate(-17)" opacity="0.95"><rect x="-19.0" y="-9.5" width="38" height="19" rx="8.5" fill="url(#myel)"/></g>
<g transform="translate(744.3,346.5) rotate(14)" opacity="0.95"><rect x="-19.0" y="-9.5" width="38" height="19" rx="8.5" fill="url(#myel)"/></g>
<g transform="translate(787,360.5) rotate(27)" opacity="0.95"><rect x="-18.5" y="-9.5" width="37" height="19" rx="8.5" fill="url(#myel)"/></g>
<g transform="translate(823.7,386) rotate(33)" opacity="0.95"><rect x="-18.0" y="-9.5" width="36" height="19" rx="8.5" fill="url(#myel)"/></g>
<g transform="translate(857.3,413.5) rotate(35)" opacity="0.95"><rect x="-17.5" y="-9.5" width="35" height="19" rx="8.5" fill="url(#myel)"/></g>
<path d="M889.3,444.0 C893.6,443.8 907.0,443.8 915.0,443.0 C923.0,442.2 930.9,441.4 937.0,439.4 C943.1,437.4 947.8,433.9 951.6,431.2 C955.4,428.4 958.5,424.3 959.9,422.9" stroke="#22a0d4" stroke-width="4.6" fill="none" stroke-linecap="round"/>
<path d="M936.0,438.5 C939.8,440.6 951.5,446.3 959.0,451.3 C966.5,456.3 977.3,465.8 981.0,468.7" stroke="#22a0d4" stroke-width="4.4" fill="none" stroke-linecap="round"/>
<path d="M889.3,444.0 C889.0,446.8 888.0,453.2 887.5,460.5 C887.0,467.8 886.8,483.4 886.6,488.0" stroke="#22a0d4" stroke-width="4.6" fill="none" stroke-linecap="round"/>
<path d="M888.5,465.0 C892.0,467.0 903.2,472.6 909.5,477.0 C915.8,481.4 923.2,489.2 926.0,491.6" stroke="#22a0d4" stroke-width="4.4" fill="none" stroke-linecap="round"/>
<ellipse cx="960.5" cy="422.5" rx="6.6" ry="6" transform="rotate(-20 960.5 422.5)" fill="#22a0d4"/>
<ellipse cx="981.5" cy="469" rx="6.6" ry="6" transform="rotate(20 981.5 469)" fill="#22a0d4"/>
<ellipse cx="886.4" cy="488.5" rx="6.6" ry="6" transform="rotate(0 886.4 488.5)" fill="#22a0d4"/>
<ellipse cx="926.2" cy="492" rx="6.6" ry="6" transform="rotate(30 926.2 492)" fill="#22a0d4"/>
<path d="M872,427 L889.8,444.5" stroke="#30a3da" stroke-width="7.2" fill="none"/>
</svg></body></html>
